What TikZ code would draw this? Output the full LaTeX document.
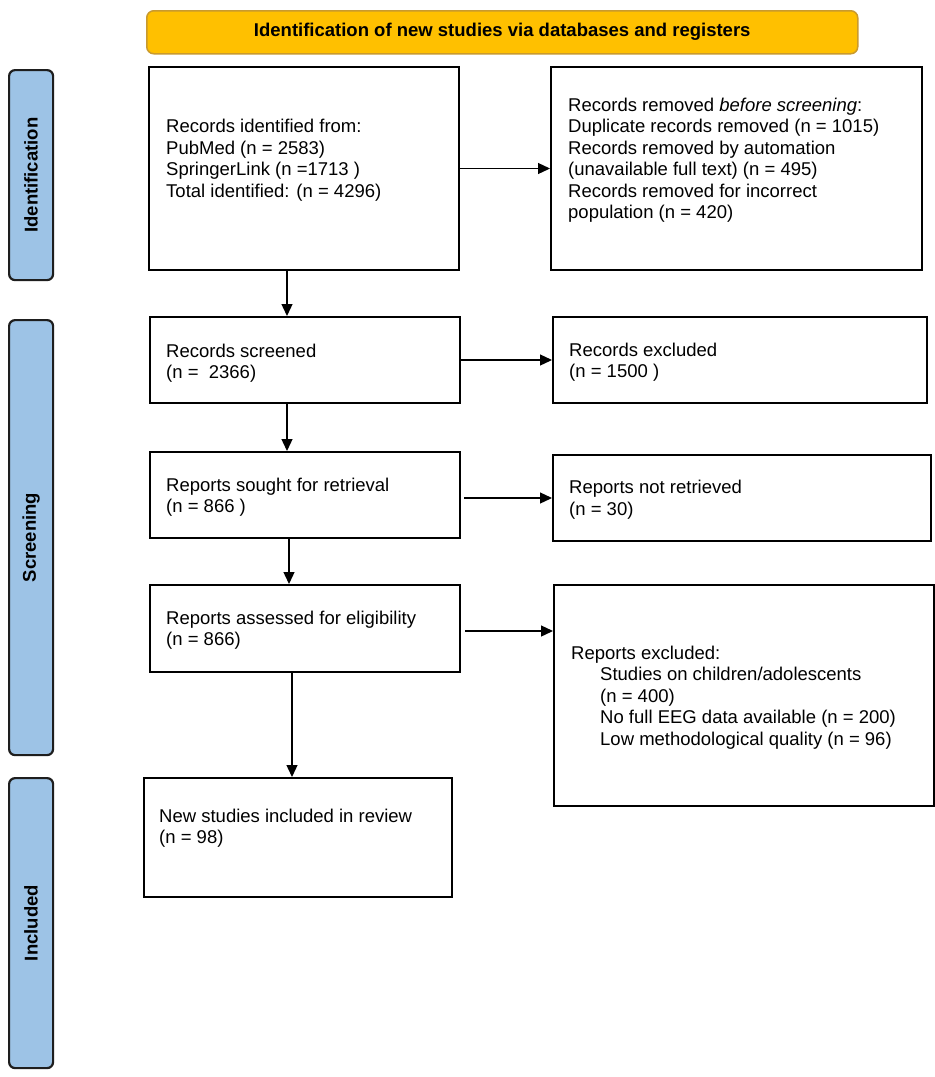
\documentclass[tikz,border=0pt]{standalone}
\usepackage{fontspec}
\setmainfont{Liberation Sans}
\usetikzlibrary{arrows.meta}
\definecolor{hdrfill}{HTML}{FFC000}
\definecolor{hdrline}{HTML}{C99A2E}
\definecolor{barfill}{HTML}{9DC3E6}
\definecolor{barline}{HTML}{1E1E1E}
\tikzset{
  box/.style={draw=black, line width=2pt, fill=white, rectangle, anchor=north west, inner sep=0pt},
  txt/.style={anchor=west, align=left, inner sep=0pt, font=\fontsize{18.5}{21.5}\selectfont},
  bar/.style={draw=barline, line width=2.2pt, fill=barfill, rounded corners=6pt, anchor=north west,
    minimum width=44pt, inner sep=0pt, font=\fontsize{18.5}{21.5}\selectfont\bfseries},
  hdr/.style={draw=hdrline, line width=1.5pt, fill=hdrfill, rounded corners=7pt, anchor=north west,
    inner sep=0pt, font=\fontsize{18.5}{21.5}\selectfont\bfseries},
  arr/.style={line width=1.3pt, -{Triangle[length=12pt,width=11pt]}}
}
\begin{document}
\begin{tikzpicture}[x=1pt,y=-1pt]
\useasboundingbox[fill=white] (0,0) rectangle (935,1077);
% header
\node[hdr, minimum width=711pt, minimum height=43pt] (hdr) at (146,10) {Identification of new studies via databases and registers};
% side bars
\node[bar, minimum height=210pt] (barI) at (8,69) {\rotatebox{90}{Identification}};
\node[bar, minimum height=435pt] (barS) at (8,319) {\rotatebox{90}{Screening}};
\node[bar, minimum height=290pt] (barN) at (8,777) {\rotatebox{90}{Included}};
% boxes
\node[box, minimum width=310pt, minimum height=203pt] (b1) at (148,66) {};
\node[box, minimum width=371pt, minimum height=203pt] (b2) at (550,66) {};
\node[box, minimum width=310pt, minimum height=86pt] (b3) at (149,316) {};
\node[box, minimum width=374pt, minimum height=86pt] (b4) at (552,316) {};
\node[box, minimum width=310pt, minimum height=86pt] (b5) at (149,451) {};
\node[box, minimum width=378pt, minimum height=86pt] (b6) at (552,454) {};
\node[box, minimum width=310pt, minimum height=87pt] (b7) at (149,584) {};
\node[box, minimum width=380pt, minimum height=221pt] (b8) at (553,584) {};
\node[box, minimum width=308pt, minimum height=119pt] (b9) at (143,777) {};
% texts
\node[txt] (t1) at (166,160) {Records identified from:\\PubMed (n = 2583)\\SpringerLink (n =1713 )\\Total identified: (n = 4296)};
\node[txt] (t2) at (568,160) {Records removed \textit{before screening}:\\Duplicate records removed (n = 1015)\\Records removed by automation\\(unavailable full text) (n = 495)\\Records removed for incorrect\\population (n = 420)};
\node[txt] (t3) at (166,363) {Records screened\\(n =\ \ 2366)};
\node[txt] (t4) at (569,362) {Records excluded\\(n = 1500 )};
\node[txt] (t5) at (166,497) {Reports sought for retrieval\\(n = 866 )};
\node[txt] (t6) at (569,499.5) {Reports not retrieved\\(n = 30)};
\node[txt] (t7) at (166,630) {Reports assessed for eligibility\\(n = 866)};
\node[txt] (t8) at (571,697.5) {Reports excluded:\\\hspace*{29pt}Studies on children/adolescents\\\hspace*{29pt}(n = 400)\\\hspace*{29pt}No full EEG data available (n = 200)\\\hspace*{29pt}Low methodological quality (n = 96)};
\node[txt] (t9) at (159,828) {New studies included in review\\(n = 98)};
% helper coordinates for vertical arrows
\coordinate (xa) at (287,0);
\coordinate (xb) at (289,0);
\coordinate (xc) at (292,0);
% connectors
\draw[arr] (b1.east) -- (b1.east -| b2.west);
\draw[arr] (b1.south -| xa) -- (b3.north -| xa);
\draw[arr] (b3.east) -- (b3.east -| b4.west);
\draw[arr] (b3.south -| xa) -- (b5.north -| xa);
\draw[arr] ([xshift=3pt]b6.west -| b5.east) -- (b6.west);
\draw[arr] (b5.south -| xb) -- (b7.north -| xb);
\draw[arr] ([xshift=4pt,yshift=-2.5pt]b7.east) -- ([yshift=-2.5pt]b7.east -| b8.west);
\draw[arr] (b7.south -| xc) -- (b9.north -| xc);
\end{tikzpicture}
\end{document}
